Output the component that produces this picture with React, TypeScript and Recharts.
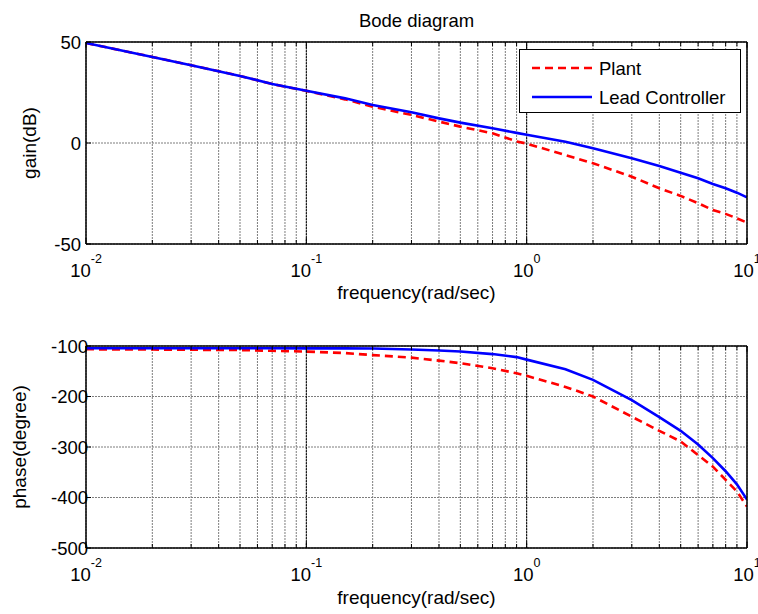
import React from 'react';
import { LineChart, Line, XAxis, YAxis, CartesianGrid, ReferenceLine } from 'recharts';

// frequency samples (rad/sec)
const freq = [0.01, 0.02, 0.03, 0.05, 0.07, 0.1, 0.15, 0.2, 0.3, 0.4, 0.5, 0.7, 0.9, 1, 1.5, 2, 3, 4, 5, 6, 7, 8, 9, 10];

// gain in dB
const plantGain = [49.5, 42.6, 38.5, 33.2, 29.2, 25.8, 21.6, 18.0, 13.9, 10.6, 8.1, 4.8, 0.8, -0.3, -6, -10, -16.7, -22.4, -26.2, -29.8, -33.2, -35.1, -37.3, -39.4];
const leadGain = [49.5, 42.6, 38.5, 33.2, 29.2, 25.9, 22.1, 18.8, 15.2, 12.2, 10.1, 7.3, 5.0, 4.1, 0.6, -2.6, -7.6, -11.4, -14.7, -17.5, -20.3, -22.4, -24.6, -26.9];

// phase in degrees
const plantPhase = [-106.5, -107, -107.5, -108, -109.5, -111, -114, -118, -123, -129, -134, -144, -154, -159, -181, -200, -240, -268, -289, -316, -339, -365, -388, -418];
const leadPhase = [-104.6, -104.6, -104.6, -104.6, -104.6, -104.8, -104.8, -105, -107, -109, -111, -116, -122, -127, -146, -167, -207, -241, -268, -295, -322, -348, -374, -404];

const freqTicks = [
  0.01, 0.02, 0.03, 0.04, 0.05, 0.06, 0.07, 0.08, 0.09,
  0.1, 0.2, 0.3, 0.4, 0.5, 0.6, 0.7, 0.8, 0.9,
  1, 2, 3, 4, 5, 6, 7, 8, 9, 10,
];
const decadeLines = [0.1, 1];
const gainTicks = [-50, 0, 50];
const phaseTicks = [-500, -400, -300, -200, -100];

const gainData = freq.map((f, i) => ({ f, plant: plantGain[i], lead: leadGain[i] }));
const phaseData = freq.map((f, i) => ({ f, plant: plantPhase[i], lead: leadPhase[i] }));

const FONT = "'Liberation Sans', Arial, sans-serif";
const RED = '#ff0000';
const BLUE = '#0000ff';

const isDecade = (v: number) => Math.abs(Math.log10(v) - Math.round(Math.log10(v))) < 1e-6;

const BottomTick = (props: any) => {
  const { x, y, payload } = props;
  const v = payload.value;
  const major = isDecade(v);
  return (
    <g>
      <line x1={x} x2={x} y1={y} y2={y - (major ? 6 : 4)} stroke="#000" />
      {major && (
        <text x={x} y={y + 33} textAnchor="middle" fontSize={18.5} fontFamily={FONT} fill="#000">
          10
          <tspan dy={-14} fontSize={12.5}>{Math.round(Math.log10(v))}</tspan>
        </text>
      )}
    </g>
  );
};

const TopTick = (props: any) => {
  const { x, y, payload } = props;
  const major = isDecade(payload.value);
  return <line x1={x} x2={x} y1={y} y2={y + (major ? 6 : 4)} stroke="#000" />;
};

const makeLeftTick = (shift: number) => (props: any) => {
  const { x, y, payload } = props;
  return (
    <g>
      <line x1={x} x2={x + 5} y1={y} y2={y} stroke="#000" />
      <text x={x + shift} y={y} dy="0.36em" textAnchor="end" fontSize={18.5} fontFamily={FONT} fill="#000">
        {payload.value}
      </text>
    </g>
  );
};

const RightTick = (props: any) => {
  const { x, y } = props;
  return <line x1={x} x2={x - 5} y1={y} y2={y} stroke="#000" />;
};

interface PanelProps {
  data: { f: number; plant: number; lead: number }[];
  height: number;
  top: number;
  bottom: number;
  yDomain: [number, number];
  yTicks: number[];
  labelShift: number;
}

const Panel = ({ data, height, top, bottom, yDomain, yTicks, labelShift }: PanelProps) => (
  <LineChart width={758} height={height} data={data} margin={{ top, right: 0, bottom: 0, left: 0 }}>
    <CartesianGrid stroke="#7d7d7d" strokeDasharray="2 1" />
    {decadeLines.map((d) => (
      <ReferenceLine key={d} x={d} stroke="#000" strokeDasharray="2 1" />
    ))}
    <XAxis
      dataKey="f"
      type="number"
      scale="log"
      domain={[0.01, 10]}
      allowDataOverflow
      ticks={freqTicks}
      interval={0}
      height={bottom}
      tickSize={0}
      tickMargin={0}
      tickLine={false}
      axisLine={{ stroke: '#000', strokeWidth: 1.5 }}
      tick={<BottomTick />}
    />
    <XAxis
      xAxisId="top"
      orientation="top"
      dataKey="f"
      type="number"
      scale="log"
      domain={[0.01, 10]}
      allowDataOverflow
      ticks={freqTicks}
      interval={0}
      height={1}
      tickSize={0}
      tickMargin={0}
      tickLine={false}
      axisLine={{ stroke: '#000', strokeWidth: 1.5 }}
      tick={<TopTick />}
    />
    <YAxis
      type="number"
      domain={yDomain}
      ticks={yTicks}
      interval={0}
      width={86}
      tickSize={0}
      tickMargin={0}
      tickLine={false}
      axisLine={{ stroke: '#000', strokeWidth: 1.5 }}
      tick={makeLeftTick(labelShift)}
    />
    <YAxis
      yAxisId="right"
      orientation="right"
      type="number"
      domain={yDomain}
      ticks={yTicks}
      interval={0}
      width={11}
      tickSize={0}
      tickMargin={0}
      tickLine={false}
      axisLine={{ stroke: '#000', strokeWidth: 1.5 }}
      tick={<RightTick />}
    />
    <Line
      dataKey="plant"
      name="Plant"
      stroke={RED}
      strokeWidth={2.6}
      strokeDasharray="8 5"
      dot={false}
      isAnimationActive={false}
    />
    <Line
      dataKey="lead"
      name="Lead Controller"
      stroke={BLUE}
      strokeWidth={2.6}
      dot={false}
      isAnimationActive={false}
    />
  </LineChart>
);

const textStyle = { fontFamily: FONT, fill: '#000' };

export default function App() {
  return (
    <div style={{ position: 'absolute', left: 0, top: 0, width: 758, height: 614, background: '#fff' }}>
      <div style={{ position: 'absolute', left: 0, top: 0 }}>
        <Panel data={gainData} height={300} top={41} bottom={56} yDomain={[-50, 50]} yTicks={gainTicks} labelShift={-5} />
      </div>
      <div style={{ position: 'absolute', left: 0, top: 300 }}>
        <Panel data={phaseData} height={314} top={45} bottom={66} yDomain={[-500, -100]} yTicks={phaseTicks} labelShift={2} />
      </div>

      <svg width={758} height={614} style={{ position: 'absolute', left: 0, top: 0, pointerEvents: 'none' }}>
        <text x={416.5} y={27} textAnchor="middle" fontSize={18.5} style={textStyle}>Bode diagram</text>
        <text x={416.5} y={299} textAnchor="middle" fontSize={19} style={textStyle}>frequency(rad/sec)</text>
        <text x={416.5} y={604} textAnchor="middle" fontSize={19} style={textStyle}>frequency(rad/sec)</text>
        <text x={36} y={143} textAnchor="middle" fontSize={19} transform="rotate(-90 36 143)" style={textStyle}>gain(dB)</text>
        <text x={26} y={447} textAnchor="middle" fontSize={19} transform="rotate(-90 26 447)" style={textStyle}>phase(degree)</text>
      </svg>

      <div
        style={{
          position: 'absolute',
          left: 519,
          top: 49,
          width: 222,
          height: 64,
          border: '1.5px solid #000',
          boxSizing: 'border-box',
          background: '#fff',
        }}
      >
        <svg width={222} height={64} style={{ position: 'absolute', left: -1.5, top: -1.5 }}>
          <line x1={13} x2={73} y1={19} y2={19} stroke={RED} strokeWidth={2.6} strokeDasharray="8 5" />
          <text x={80} y={19} dy="0.36em" fontSize={18.5} style={textStyle}>Plant</text>
          <line x1={13} x2={73} y1={48} y2={48} stroke={BLUE} strokeWidth={2.6} />
          <text x={80} y={48} dy="0.36em" fontSize={18.5} style={textStyle}>Lead Controller</text>
        </svg>
      </div>
    </div>
  );
}
